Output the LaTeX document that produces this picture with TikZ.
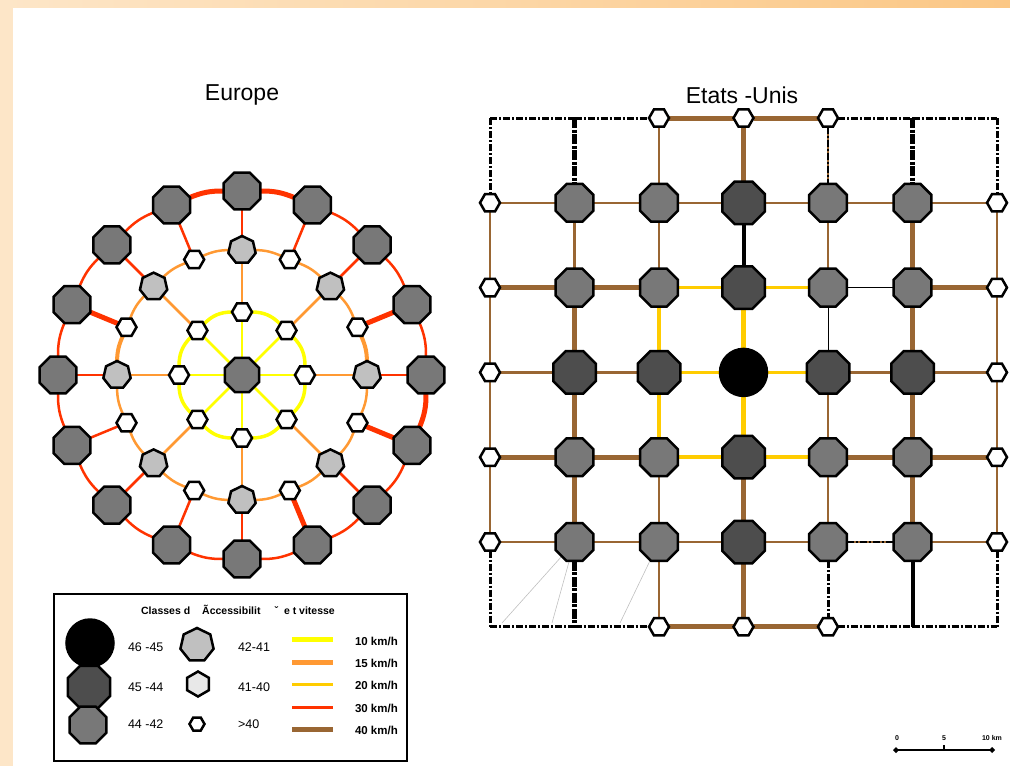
\documentclass[tikz,border=0pt]{standalone}
\usepackage{fontspec}
\setmainfont{Liberation Sans}
\usetikzlibrary{shapes.geometric,arrows.meta}
\pgfdeclarelayer{roads}
\pgfsetlayers{roads,main}

\definecolor{kmten}{HTML}{FFFF00}
\definecolor{kmfifteen}{HTML}{FF9933}
\definecolor{kmtwenty}{HTML}{FFCC00}
\definecolor{kmthirty}{HTML}{FF3300}
\definecolor{kmforty}{HTML}{996633}
\definecolor{accdark}{HTML}{4D4D4D}
\definecolor{accmid}{HTML}{787878}
\definecolor{acclight}{HTML}{C0C0C0}
\definecolor{accpale}{HTML}{E8E8E8}
\definecolor{frameA}{HTML}{FDE6C8}
\definecolor{frameB}{HTML}{FBC785}

\begin{document}
\begin{tikzpicture}[
  x=1pt, y=-1pt,
  every node/.style={inner sep=0pt, outer sep=0pt},
  poly/.style={regular polygon, regular polygon sides=#1, draw=black, line width=2.5pt},
  cls46/.style={circle, draw=black, line width=2.5pt, fill=black, minimum size=#1},
  cls45/.style={poly=8, fill=accdark, minimum size=#1},
  cls44/.style={poly=8, fill=accmid, minimum size=#1},
  cls42/.style={poly=7, fill=acclight, minimum size=#1},
  cls41/.style={poly=6, fill=accpale, minimum size=#1, shape border rotate=90},
  cls40/.style={poly=6, fill=white, minimum size=#1},
  % europe
  eout/.style={cls44=40}, ecen/.style={cls44=37},
  emid/.style={cls42=28}, ewht/.style={cls40=20},
  % etats-unis
  usb/.style={cls46=47}, usd/.style={cls45=46}, usg/.style={cls44=41},
  usw/.style={cls40=20}, usp/.style={coordinate},
  % speeds
  v10/.style={draw=kmten, line width=3.5pt},
  v15/.style={draw=kmfifteen, line width=2.5pt},
  v15t/.style={draw=kmfifteen, line width=4pt},
  v20n/.style={draw=kmtwenty, line width=2.5pt},
  v20/.style={draw=kmtwenty, line width=3.5pt},
  v20t/.style={draw=kmtwenty, line width=5pt},
  v30/.style={draw=kmthirty, line width=2.5pt},
  v30t/.style={draw=kmthirty, line width=5pt},
  v40/.style={draw=kmforty, line width=2.5pt},
  v40t/.style={draw=kmforty, line width=5pt},
  blk/.style={draw=black, line width=1pt},
  blkt/.style={draw=black, line width=4pt},
  bound/.style={draw=black, line width=3pt, dash pattern=on 7pt off 2pt on 2pt off 2pt},
  boundt/.style={draw=black, line width=4.5pt, dash pattern=on 10pt off 1.5pt on 3pt off 1.5pt},
  hint/.style={draw=black!25, line width=0.6pt},
  lbl/.style={font=\fontsize{12.5}{14}\selectfont, anchor=west},
  lblb/.style={font=\bfseries\fontsize{11.5}{13}\selectfont, anchor=west}
]
\useasboundingbox (0,0) rectangle (1010,766);

% frame
\shade[left color=frameA, right color=frameB] (0,0) rectangle (1010,7);
\fill[frameA] (0,0) rectangle (13,766);

% titles
\node[font=\fontsize{23}{27}\selectfont] (eutitle) at (242,95) {Europe};
\node[font=\fontsize{23}{27}\selectfont] (ustitle) at (742,95) {Etats -Unis};

% ---------- Europe ----------
\node[ecen] (ec) at (242,375) {};
\foreach \i in {0,...,15}
  \node[eout] (eo\i) at ({242+184*cos(22.5*\i)},{375-184*sin(22.5*\i)}) {};
\foreach \i in {0,2,...,14}
  \node[emid] (em\i) at ({242+125*cos(22.5*\i)},{375-125*sin(22.5*\i)}) {};
\foreach \i in {1,3,...,15}
  \node[ewht] (em\i) at ({242+125*cos(22.5*\i)},{375-125*sin(22.5*\i)}) {};
\foreach \j in {0,...,7}
  \node[ewht] (ei\j) at ({242+63*cos(45*\j)},{375-63*sin(45*\j)}) {};

\begin{pgfonlayer}{roads}
\foreach \j in {0,...,7}{
  \pgfmathtruncatemacro\k{mod(\j+1,8)}
  \pgfmathtruncatemacro\m{2*\j}
  \draw[v10, line width=2.5pt] (ec) -- (ei\j);
  \draw[v10] (ei\j) to[bend right=22.5] (ei\k);
  \draw[v15] (ei\j) -- (em\m);
}
\foreach \i in {0,...,15}{
  \pgfmathtruncatemacro\k{mod(\i+1,16)}
  \draw[v15] (em\i) to[bend right=11.25] (em\k);
  \draw[v30] (em\i) -- (eo\i);
  \draw[v30] (eo\i) to[bend right=11.25] (eo\k);
}
% heavier stretches
\draw[v30t] (em1) -- (eo1);
\draw[v30t] (em7) -- (eo7);
\draw[v30t] (em13) -- (eo13);
\draw[v30t] (em15) -- (eo15);
\draw[v30t] (eo3) to[bend right=11.25] (eo4);
\draw[v30t] (eo4) to[bend right=11.25] (eo5);
\draw[v30t] (eo15) to[bend right=11.25] (eo0);
\draw[v15t] (em0) to[bend right=11.25] (em1);
\draw[v15t] (em7) to[bend right=11.25] (em8);
\end{pgfonlayer}

% ---------- Etats-Unis ----------
\foreach \r/\kinds in {0/{usp,usp,usw,usw,usw,usp,usp},
                       1/{usw,usg,usg,usd,usg,usg,usw},
                       2/{usw,usg,usg,usd,usg,usg,usw},
                       3/{usw,usd,usd,usb,usd,usd,usw},
                       4/{usw,usg,usg,usd,usg,usg,usw},
                       5/{usw,usg,usg,usd,usg,usg,usw},
                       6/{usp,usp,usw,usw,usw,usp,usp}}
  \foreach \k [count=\c from 0] in \kinds
    \node[\k] (u\c\r) at ({490+84.5*\c},{118+84.8*\r}) {};

\coordinate (h1) at (502,623);
\coordinate (h2) at (552,623);
\coordinate (h3) at (620,623);

\begin{pgfonlayer}{roads}
% rows
\foreach \a/\b/\s in {
  00/10/bound, 10/20/bound, 20/30/v40t, 30/40/v40t, 40/50/bound, 50/60/bound,
  01/11/v40, 11/21/v40, 21/31/v40, 31/41/v40, 41/51/v40, 51/61/v40,
  02/12/v40t, 12/22/v40t, 22/32/v20, 32/42/v20, 42/52/blk, 52/62/v40t,
  03/13/v40, 13/23/v40, 23/33/v20n, 33/43/v20n, 43/53/v40, 53/63/v40,
  04/14/v40t, 14/24/v40t, 24/34/v20, 34/44/v20, 44/54/v40t, 54/64/v40t,
  05/15/v40, 15/25/v40, 25/35/v40, 35/45/v40, 45/55/v40, 55/65/v40,
  06/16/bound, 16/26/bound, 26/36/v40t, 36/46/v40t, 46/56/bound, 56/66/bound}
  \draw[\s] (u\a) -- (u\b);
% columns
\foreach \a/\b/\s in {
  00/01/bound, 01/02/v40, 02/03/v40, 03/04/v40, 04/05/v40, 05/06/bound,
  10/11/boundt, 11/12/v40, 12/13/v40t, 13/14/v40t, 14/15/v40t, 15/16/boundt,
  20/21/v40, 21/22/v40, 22/23/v20, 23/24/v20, 24/25/v40, 25/26/v40,
  30/31/v40t, 31/32/blkt, 32/33/v20t, 33/34/v20t, 34/35/v40t, 35/36/v40t,
  40/41/v40, 41/42/v40, 42/43/blk, 43/44/v40, 44/45/v40, 45/46/bound,
  50/51/boundt, 51/52/v40t, 52/53/v40t, 53/54/v40t, 54/55/v40t, 55/56/blkt,
  60/61/bound, 61/62/v40, 62/63/v40, 63/64/v40, 64/65/v40, 65/66/bound}
  \draw[\s] (u\a) -- (u\b);
\draw[bound, line width=1.5pt] (u40) -- (u41);
\draw[bound, line width=1.5pt] (u45) -- (u55);
\draw[hint] (u15) -- (h1);
\draw[hint] (u15) -- (h2);
\draw[hint] (u25) -- (h3);
\end{pgfonlayer}

% ---------- legend ----------
\draw[line width=2pt] (54,594) rectangle (407,761);
\node[font=\bfseries\fontsize{10.5}{12}\selectfont] (lgtitle) at (238,610)
  {Classes d\hspace{12pt}Ãccessibilit\hspace{14pt}ˇ\hspace{6pt}e t vitesse};

\node[cls46=47] (k46) at (90,643) {};
\node[cls45=46] (k45) at (89,687) {};
\node[cls44=40] (k44) at (88,725) {};
\node[cls42=34] (k42) at (197,645) {};
\node[cls41=25] (k41) at (198,684) {};
\node[cls40=15] (k40) at (197,724) {};
\node[lbl] (t46) at (128,647) {46 -45};
\node[lbl] (t45) at (128,687) {45 -44};
\node[lbl] (t44) at (128,724) {44 -42};
\node[lbl] (t42) at (238,647) {42-41};
\node[lbl] (t41) at (238,687) {41-40};
\node[lbl] (t40) at (238,724) {>40};

\draw[draw=kmten, line width=5pt] (292,639) -- (333,639);
\draw[draw=kmfifteen, line width=5pt] (292,662) -- (333,662);
\draw[draw=kmtwenty, line width=3pt] (292,684) -- (333,684);
\draw[draw=kmthirty, line width=3pt] (292,707) -- (333,707);
\draw[draw=kmforty, line width=5pt] (292,729) -- (333,729);
\node[lblb] (s10) at (355,641) {10 km/h};
\node[lblb] (s15) at (355,663) {15 km/h};
\node[lblb] (s20) at (355,685) {20 km/h};
\node[lblb] (s30) at (355,708) {30 km/h};
\node[lblb] (s40) at (355,730) {40 km/h};

% ---------- scale ----------
\coordinate (sc0) at (893,750);
\coordinate (sc10) at (995,750);
\draw[line width=1.8pt, {Diamond[length=6pt,width=6pt]}-{Diamond[length=6pt,width=6pt]}] (sc0) -- (sc10);
\draw[line width=1.2pt] (944,750) -- (944,745);
\node[font=\bfseries\fontsize{7}{8}\selectfont] (sl0) at (897,738) {0};
\node[font=\bfseries\fontsize{7}{8}\selectfont] (sl5) at (944,738) {5};
\node[font=\bfseries\fontsize{7}{8}\selectfont] (sl10) at (992,738) {10 km};
\end{tikzpicture}
\end{document}
